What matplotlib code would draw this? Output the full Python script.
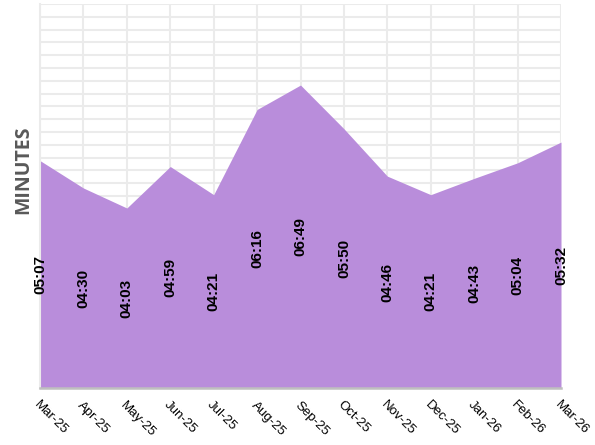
import matplotlib
matplotlib.use("Agg")
import matplotlib.pyplot as plt
import numpy as np

months = ["Mar-25", "Apr-25", "May-25", "Jun-25", "Jul-25", "Aug-25", "Sep-25",
          "Oct-25", "Nov-25", "Dec-25", "Jan-26", "Feb-26", "Mar-26"]
durations = ["05:07", "04:30", "04:03", "04:59", "04:21", "06:16", "06:49",
             "05:50", "04:46", "04:21", "04:43", "05:04", "05:32"]

# mm:ss -> minutes
minutes = [int(d.split(":")[0]) + int(d.split(":")[1]) / 60 for d in durations]

fill_color = "#B98DDB"
grid_color = "#EBEBEB"

fig = plt.figure(figsize=(5.95, 4.45), dpi=100)
ax = fig.add_axes([40 / 595, 1 - 388 / 445, 521 / 595, 384 / 445])

x = np.arange(len(months))
ax.fill_between(x, 0, minutes, color=fill_color, linewidth=0, zorder=2)

ymax = 8.64  # 0.006 day
ax.set_xlim(0, len(months) - 1)
ax.set_ylim(0, ymax)
ax.set_yticks(np.arange(0, ymax + 0.001, 0.288))
ax.set_xticks(x)
ax.grid(True, color=grid_color, linewidth=1.5, zorder=0)
ax.set_axisbelow(True)
ax.tick_params(axis="y", left=False, labelleft=False)
ax.tick_params(axis="x", length=0, pad=8)
ax.set_xticklabels(months, rotation=-45, ha="left", va="top",
                   rotation_mode="anchor", fontsize=9.5,
                   family="Liberation Sans")

for s in ["top", "right"]:
    ax.spines[s].set_visible(False)
ax.spines["left"].set_color(grid_color)
ax.spines["left"].set_linewidth(1.5)
ax.spines["bottom"].set_color("#BFBFBF")
ax.spines["bottom"].set_linewidth(1.8)
ax.spines["bottom"].set_zorder(3)

for xi, m, lab in zip(x, minutes, durations):
    ax.text(xi, m / 2, lab, rotation=90, ha="center", va="center",
            fontsize=11, fontweight="bold", color="black",
            family="Liberation Sans", zorder=4)

ax.set_ylabel("MINUTES", fontsize=14, fontweight="bold", color="#595959",
              family="Open Sans")
ax.yaxis.set_label_coords(-0.013, 0.568)

fig.savefig("out.png", dpi=100)
